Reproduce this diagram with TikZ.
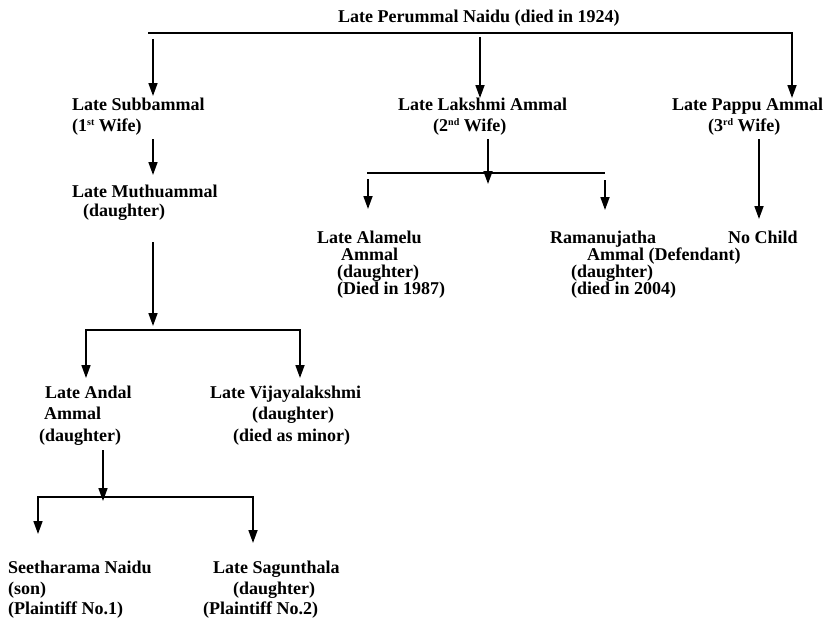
\documentclass[tikz,border=0pt]{standalone}
\usepackage{fontspec}
\setmainfont{Liberation Serif}
\usetikzlibrary{arrows.meta}
\newcommand{\supx}[1]{\raisebox{6pt}{\fontsize{10}{10}\selectfont #1}}
\begin{document}
\begin{tikzpicture}[x=1pt,y=-1pt,
  lbl/.style={anchor=base west,inner sep=0pt,font=\fontsize{18}{20}\selectfont\bfseries},
  conn/.style={line width=1.7pt},
  arr/.style={conn,-{Triangle[length=13pt,width=9pt]}}]
\useasboundingbox[fill=white] (0,0) rectangle (827,618);

% ---- texts ----
\node[lbl] (root) at (338,23) {Late Perummal Naidu (died in 1924)};

\node[lbl] (w1a) at (72,110) {Late Subbammal};
\node[lbl] (w1b) at (72,131) {(1\supx{st} Wife)};
\node[lbl] (w2a) at (398,110) {Late Lakshmi Ammal};
\node[lbl] (w2b) at (433,131) {(2\supx{nd} Wife)};
\node[lbl] (w3a) at (672,110) {Late Pappu Ammal};
\node[lbl] (w3b) at (708,131) {(3\supx{rd} Wife)};

\node[lbl] (mua) at (72,197) {Late Muthuammal};
\node[lbl] (mub) at (83,216) {(daughter)};

\node[lbl] (ala) at (317,243) {Late Alamelu};
\node[lbl] (alb) at (341,260) {Ammal};
\node[lbl] (alc) at (337,277) {(daughter)};
\node[lbl] (ald) at (337,294) {(Died in 1987)};

\node[lbl] (raa) at (550,243) {Ramanujatha};
\node[lbl] (rab) at (587,260) {Ammal (Defendant)};
\node[lbl] (rac) at (571,277) {(daughter)};
\node[lbl] (rad) at (571,294) {(died in 2004)};

\node[lbl] (noc) at (728,243) {No Child};

\node[lbl] (ana) at (45,398) {Late Andal};
\node[lbl] (anb) at (44,419) {Ammal};
\node[lbl] (anc) at (39,441) {(daughter)};

\node[lbl] (via) at (210,398) {Late Vijayalakshmi};
\node[lbl] (vib) at (252,419) {(daughter)};
\node[lbl] (vic) at (233,441) {(died as minor)};

\node[lbl] (sea) at (8,573) {Seetharama Naidu};
\node[lbl] (seb) at (8,594) {(son)};
\node[lbl] (sec) at (8,614) {(Plaintiff No.1)};

\node[lbl] (saa) at (213,573) {Late Sagunthala};
\node[lbl] (sab) at (233,594) {(daughter)};
\node[lbl] (sac) at (203,614) {(Plaintiff No.2)};

% ---- junction coordinates ----
\coordinate (tl) at (148,33);
\coordinate (tr) at (792,33);
\coordinate (a1s) at (153,39);  \coordinate (a1e) at (153,96);
\coordinate (a2s) at (480,37);  \coordinate (a2e) at (480,98);
\coordinate (a3e) at (792,98);

\coordinate (b1s) at (153,139); \coordinate (b1e) at (153,175);

\coordinate (c1s) at (153,242); \coordinate (c1e) at (153,326);
\coordinate (c1m) at (153,330);
\coordinate (c1l) at (86,330);  \coordinate (c1le) at (86,378);
\coordinate (c1r) at (300,330); \coordinate (c1re) at (300,378);

\coordinate (d1s) at (103,450); \coordinate (d1e) at (103,501);
\coordinate (d1m) at (103,497);
\coordinate (d1l) at (38,497);  \coordinate (d1le) at (38,534);
\coordinate (d1r) at (253,497); \coordinate (d1re) at (253,543);

\coordinate (m1s) at (488,139); \coordinate (m1e) at (488,184);
\coordinate (m1l) at (367,173); \coordinate (m1r) at (605,173);
\coordinate (m2s) at (368,179); \coordinate (m2e) at (368,209);
\coordinate (m3s) at (605,180); \coordinate (m3e) at (605,210);

\coordinate (p1s) at (759,139); \coordinate (p1e) at (759,219);

% ---- connectors ----
\draw[arr] (tl) -- (tr) -- (a3e);
\draw[arr] (a1s) -- (a1e);
\draw[arr] (a2s) -- (a2e);

\draw[arr] (b1s) -- (b1e);
\draw[arr] (c1s) -- (c1e);
\draw[arr] (c1m) -- (c1l) -- (c1le);
\draw[arr] (c1m) -- (c1r) -- (c1re);

\draw[arr] (d1s) -- (d1e);
\draw[arr] (d1m) -- (d1l) -- (d1le);
\draw[arr] (d1m) -- (d1r) -- (d1re);

\draw[conn] (m1l) -- (m1r);
\draw[arr] (m1s) -- (m1e);
\draw[arr] (m2s) -- (m2e);
\draw[arr] (m3s) -- (m3e);

\draw[arr] (p1s) -- (p1e);
\end{tikzpicture}
\end{document}
